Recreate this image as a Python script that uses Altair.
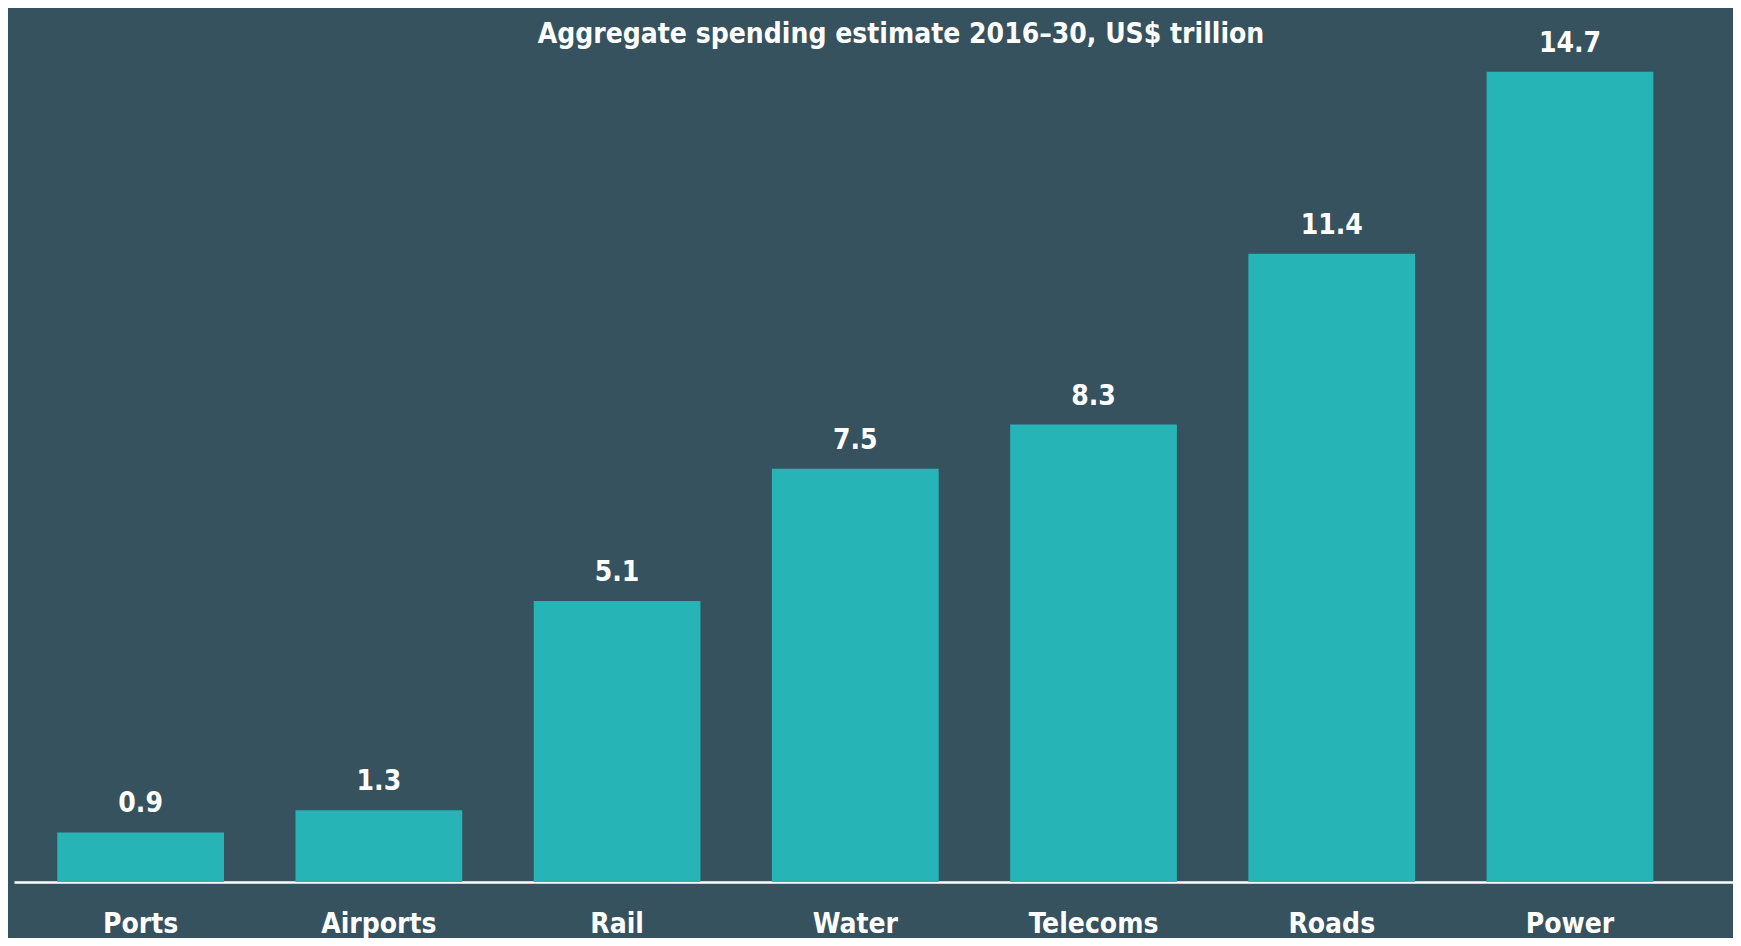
import altair as alt
import pandas as pd

categories = ["Ports", "Airports", "Rail", "Water", "Telecoms", "Roads", "Power"]
values = [0.9, 1.3, 5.1, 7.5, 8.3, 11.4, 14.7]
labels = ["0.9", "1.3", "5.1", "7.5", "8.3", "11.4", "14.7"]
title_text = "Aggregate spending estimate 2016\u201330, US$ trillion"

df = pd.DataFrame({"cat": categories, "val": values, "lab": labels})
tdf = pd.DataFrame({"t": [title_text]})

FONT = "Liberation Sans Narrow, DejaVu Sans Condensed, Arial Narrow, sans-serif"
BG = "#36525E"
BAR = "#26B4B6"

x = alt.X("cat:N", sort=categories,
          scale=alt.Scale(paddingInner=0.30, paddingOuter=0.258, align=0.352),
          axis=alt.Axis(title=None, labelAngle=0, ticks=False, domain=True,
                        domainColor="#FFFFFF", domainWidth=2.5,
                        labelColor="#FFFFFF", labelFont=FONT, labelFontSize=28,
                        labelFontWeight="bold", labelPadding=50,
                        labelBaseline="alphabetic", grid=False))
y = alt.Y("val:Q", scale=alt.Scale(domain=[0, 14.77], nice=False, zero=True),
          axis=None)

bars = alt.Chart(df).mark_bar(color=BAR).encode(x=x, y=y)
text = alt.Chart(df).mark_text(dy=-20, baseline="alphabetic", font=FONT,
                               fontSize=28, fontWeight="bold",
                               color="#FFFFFF").encode(x=x, y=y, text="lab:N")
title = alt.Chart(tdf).mark_text(baseline="alphabetic", align="center",
                                 font=FONT, fontSize=28, fontWeight="bold",
                                 color="#FFFFFF").encode(
    text="t:N", x=alt.value(887), y=alt.value(-25))

chart = (bars + text + title).properties(
    width=1719, height=814,
    background=BG,
    padding={"left": 6, "top": 60, "right": 0, "bottom": 56},
    autosize=alt.AutoSizeParams(type="none"),
).configure_view(stroke=None)

chart.save("out.html", embed_options={"renderer": "svg", "actions": False})
